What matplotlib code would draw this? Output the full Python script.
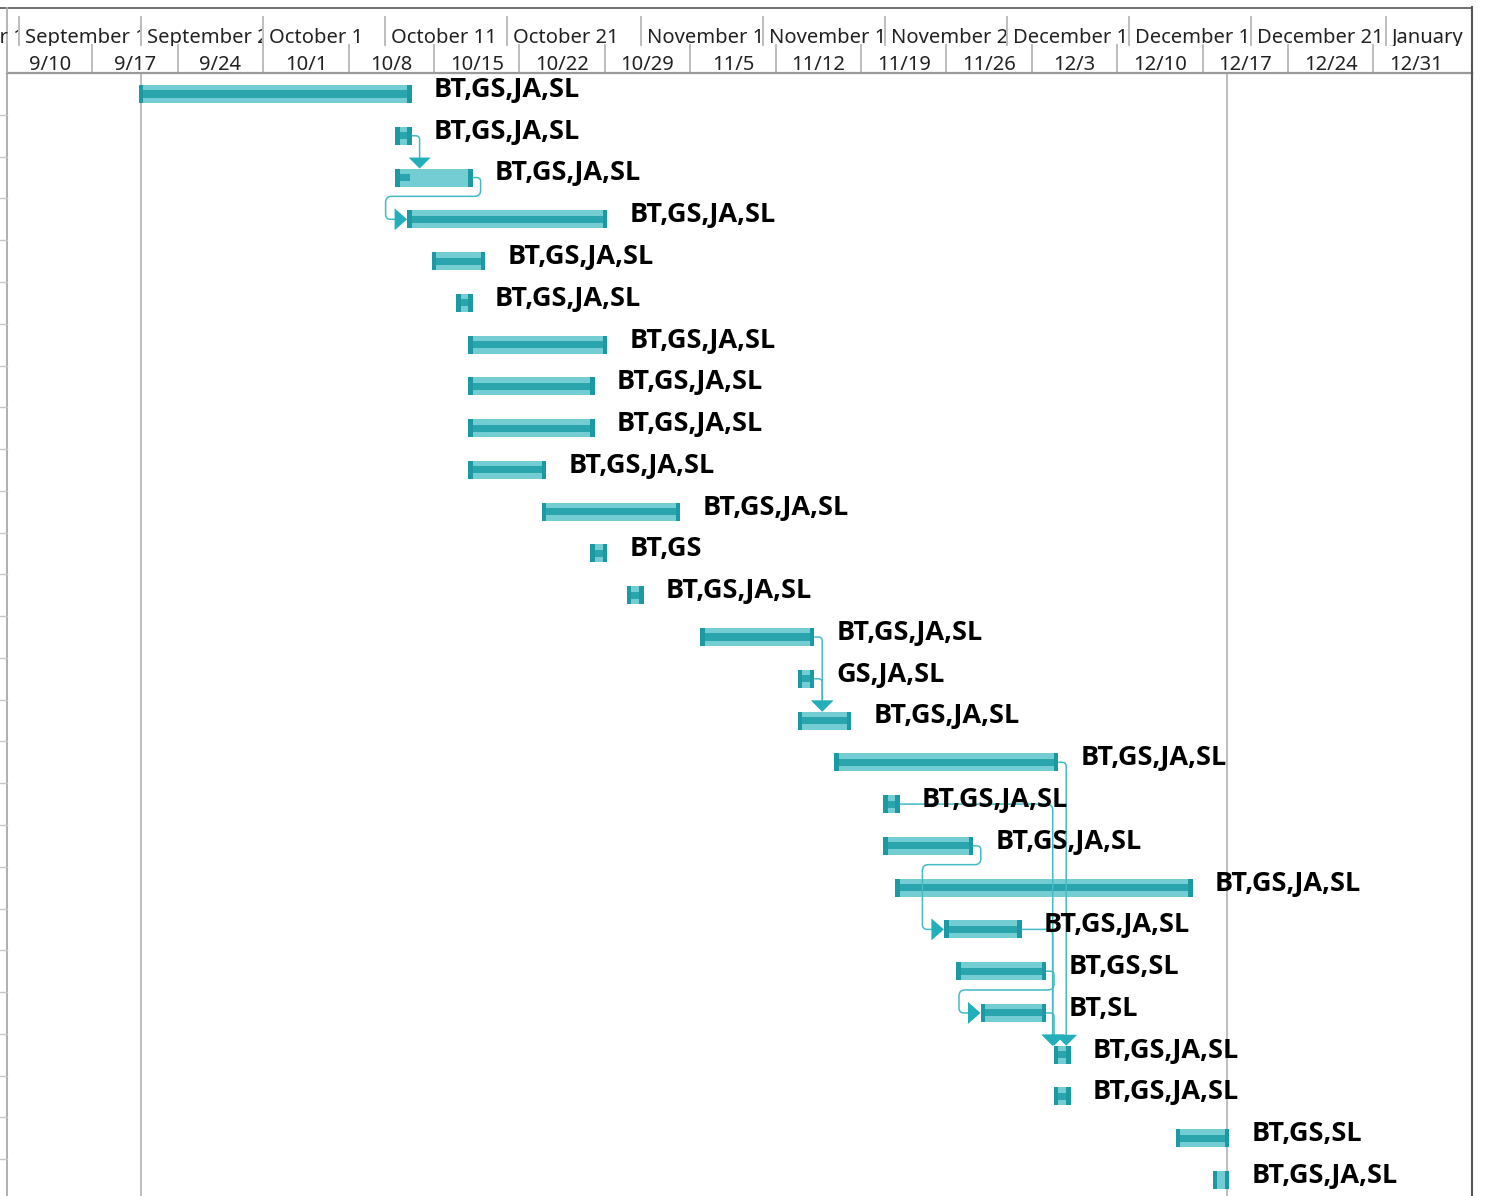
import datetime as dt
import matplotlib
matplotlib.use("Agg")
import matplotlib.pyplot as plt
import matplotlib.dates as mdates
from matplotlib.path import Path
from matplotlib.patches import PathPatch, Polygon

plt.rcParams['font.family'] = ['Noto Sans', 'DejaVu Sans']

# task schedule (finish is the day after the last working day)
starts = ["2018-09-21", "2018-10-12", "2018-10-12", "2018-10-13", "2018-10-15",
          "2018-10-17", "2018-10-18", "2018-10-18", "2018-10-18", "2018-10-18",
          "2018-10-24", "2018-10-28", "2018-10-31", "2018-11-06", "2018-11-14",
          "2018-11-14", "2018-11-17", "2018-11-21", "2018-11-21", "2018-11-22",
          "2018-11-26", "2018-11-27", "2018-11-29", "2018-12-05", "2018-12-05",
          "2018-12-15", "2018-12-18"]
finishes = ["2018-10-13", "2018-10-13", "2018-10-18", "2018-10-29", "2018-10-19",
            "2018-10-18", "2018-10-29", "2018-10-28", "2018-10-28", "2018-10-24",
            "2018-11-04", "2018-10-29", "2018-11-01", "2018-11-15", "2018-11-15",
            "2018-11-18", "2018-12-05", "2018-11-22", "2018-11-28", "2018-12-16",
            "2018-12-02", "2018-12-04", "2018-12-04", "2018-12-06", "2018-12-06",
            "2018-12-19", "2018-12-19"]
# completed days per task
done_days = [22, 1, 1, 16, 4, 1, 11, 10, 10, 6, 11, 1, 1, 9, 1, 4, 18, 1, 7, 24,
             6, 7, 5, 1, 1, 4, 0]
resources = ["BT,GS,JA,SL"] * 11 + ["BT,GS", "BT,GS,JA,SL", "BT,GS,JA,SL",
             "GS,JA,SL"] + ["BT,GS,JA,SL"] * 6 + ["BT,GS,SL", "BT,SL",
             "BT,GS,JA,SL", "BT,GS,JA,SL", "BT,GS,SL", "BT,GS,JA,SL"]
# predecessor -> successor (1-based rows), how the arrow is routed
links = [(2, 3, "drop"), (3, 4, "wrap"), (14, 16, "drop"), (15, 16, "drop"),
         (17, 24, "drop"), (18, 24, "drop"), (19, 21, "wrap"), (21, 24, "drop"),
         (22, 23, "wrap"), (23, 24, "drop")]
marker_dates = ["2018-09-21", "2018-12-19"]

tier_top = ["2018-09-01", "2018-09-11", "2018-09-21", "2018-10-01", "2018-10-11",
            "2018-10-21", "2018-11-01", "2018-11-11", "2018-11-21", "2018-12-01",
            "2018-12-11", "2018-12-21", "2019-01-01", "2019-01-11"]
weeks = ["2018-09-03", "2018-09-10", "2018-09-17", "2018-09-24", "2018-10-01",
         "2018-10-08", "2018-10-15", "2018-10-22", "2018-10-29", "2018-11-05",
         "2018-11-12", "2018-11-19", "2018-11-26", "2018-12-03", "2018-12-10",
         "2018-12-17", "2018-12-24", "2018-12-31", "2019-01-07"]


def num(s):
    return mdates.date2num(dt.datetime.strptime(s, "%Y-%m-%d"))


x_start = [num(s) for s in starts]
x_end = [num(s) for s in finishes]
n = len(starts)

W, H = 1496, 1196
PX_DAY = 12.2
PX_ROW = 41.77
ORIGIN = num("2018-09-10")  # sits at x = 7 px
X0 = ORIGIN - 7 / PX_DAY
X1 = ORIGIN + (1472 - 7) / PX_DAY

FILL = "#74cdd3"
STRIPE = "#2ba5ad"
CAP = "#1c9aa3"
LINK = "#45bac5"
HEAD = "#22afba"
LABEL_FONT = ['Open Sans', 'Noto Sans', 'DejaVu Sans']

fig = plt.figure(figsize=(W / 100, H / 100), dpi=100)
ax = fig.add_axes([0, 0, 1472 / W, (H - 73) / H])
hd = fig.add_axes([0, (H - 73) / H, 1472 / W, 66 / H])

y_top = (73 - 94) / PX_ROW
y_bot = (H - 94) / PX_ROW
for a in (ax, hd):
    a.set_xlim(X0, X1)
    a.axis("off")
ax.set_ylim(y_bot, y_top)
hd.set_ylim(73, 7)


def px_x(x):
    return 7 + (x - ORIGIN) * PX_DAY


def cell_text(a, b, y0, y1, label, x_text, ha):
    """Timescale label clipped to its own cell (a..b in dates, y0..y1 in px)."""
    left = max(px_x(a), 0)
    right = min(px_x(b), 1467)
    if right <= left:
        return
    c = fig.add_axes([left / W, 1 - y1 / H, (right - left) / W, (y1 - y0) / H])
    c.set_xlim(left, right)
    c.set_ylim(y1, y0)
    c.axis("off")
    c.text(px_x(x_text), y1 - 3, label, fontsize=14.5, color="#222222",
           va="baseline", ha=ha, clip_on=True)


# ---- header ----
for i in range(len(tier_top) - 1):
    a, b = num(tier_top[i]), num(tier_top[i + 1])
    d = dt.datetime.strptime(tier_top[i], "%Y-%m-%d")
    hd.plot([a, a], [17, 45], color="#b8b8b8", lw=1.3)
    cell_text(a + 0.1, b - 0.1, 10, 46, d.strftime("%B ") + str(d.day),
              a + 6 / PX_DAY, "left")
for i in range(len(weeks) - 1):
    a, b = num(weeks[i]), num(weeks[i + 1])
    d = dt.datetime.strptime(weeks[i], "%Y-%m-%d")
    hd.plot([a, a], [45, 73], color="#b8b8b8", lw=1.3)
    cell_text(a + 0.1, b - 0.1, 46, 73, f"{d.month}/{d.day}", (a + b) / 2, "center")
hd.plot([X0, X1], [7.5, 7.5], color="#707070", lw=1.4, clip_on=False)
hd.plot([ORIGIN, X1], [72.5, 72.5], color="#9a9a9a", lw=1.6, clip_on=False)
hd.plot([ORIGIN, ORIGIN], [7, 73], color="#b0b0b0", lw=1.3)

# ---- chart frame ----
ax.plot([ORIGIN, ORIGIN], [y_top, y_bot], color="#a8a8a8", lw=1.3)
ax.plot([X1 - 0.04, X1 - 0.04], [y_top, y_bot], color="#555555", lw=1.5, clip_on=False)
hd.plot([X1 - 0.04, X1 - 0.04], [7, 73], color="#555555", lw=1.5, clip_on=False)
for r in range(n):
    ax.plot([X0, ORIGIN], [r + 0.5, r + 0.5], color="#c8c8c8", lw=1.0)
for m in marker_dates:
    ax.axvline(num(m), color="#bdbdbd", lw=1.4, zorder=1)

# ---- bars ----
rows = list(range(n))
dur = [e - s for s, e in zip(x_start, x_end)]
cap_w = 4.5 / PX_DAY
ax.barh(rows, dur, left=x_start, height=0.43, color=FILL, zorder=3)
ax.barh(rows, done_days, left=x_start, height=0.17, color=STRIPE, zorder=4)
ax.barh(rows, cap_w, left=[s - cap_w / 2 for s in x_start], height=0.43,
        color=CAP, zorder=5)
ax.barh(rows, cap_w, left=[e - cap_w / 2 for e in x_end], height=0.43,
        color=CAP, zorder=5)

for r in rows:
    ax.text(x_end[r] + 2, r + 0.07, resources[r], fontsize=19.5, fontweight="bold",
            family=LABEL_FONT, color="black", va="baseline", ha="left", zorder=8)


# ---- dependency arrows ----
def to_px(x, y):
    return 7 + (x - ORIGIN) * PX_DAY, 94 + y * PX_ROW


def to_data(px, py):
    return ORIGIN + (px - 7) / PX_DAY, (py - 94) / PX_ROW


def rounded(pts, rad=6):
    verts = [pts[0]]
    codes = [Path.MOVETO]
    for k in range(1, len(pts) - 1):
        p0, p1, p2 = pts[k - 1], pts[k], pts[k + 1]
        l1 = abs(p1[0] - p0[0]) + abs(p1[1] - p0[1])
        l2 = abs(p2[0] - p1[0]) + abs(p2[1] - p1[1])
        r = min(rad, l1 / 2, l2 / 2)
        a = (p1[0] - (p1[0] - p0[0]) / l1 * r, p1[1] - (p1[1] - p0[1]) / l1 * r)
        b = (p1[0] + (p2[0] - p1[0]) / l2 * r, p1[1] + (p2[1] - p1[1]) / l2 * r)
        verts += [a, p1, b]
        codes += [Path.LINETO, Path.CURVE3, Path.CURVE3]
    verts.append(pts[-1])
    codes.append(Path.LINETO)
    return Path([to_data(*v) for v in verts], codes)


bar_half = 0.43 * PX_ROW / 2
for p, s, kind in links:
    p, s = p - 1, s - 1
    ex, ey = to_px(x_end[p], p)
    sx, sy = to_px(x_start[s], s)
    ex += 2
    if kind == "drop":
        xd = max(ex + 8, sx - 3.5)
        top = sy - bar_half
        pts = [(ex, ey), (xd, ey), (xd, top - 10)]
        tri = [(xd - 11, top - 11), (xd + 11, top - 11), (xd, top)]
    else:
        xr = ex + 8
        xl = sx - 24
        ym = ey + 0.45 * PX_ROW
        pts = [(ex, ey), (xr, ey), (xr, ym), (xl, ym), (xl, sy), (sx - 14, sy)]
        tri = [(sx - 15, sy - 11), (sx - 15, sy + 11), (sx - 2.5, sy)]
    ax.add_patch(PathPatch(rounded(pts), fill=False, edgecolor=LINK, lw=1.1,
                           zorder=6))
    ax.add_patch(Polygon([to_data(*v) for v in tri], closed=True, color=HEAD,
                         lw=0, zorder=7))

fig.savefig("out.png", dpi=100)
